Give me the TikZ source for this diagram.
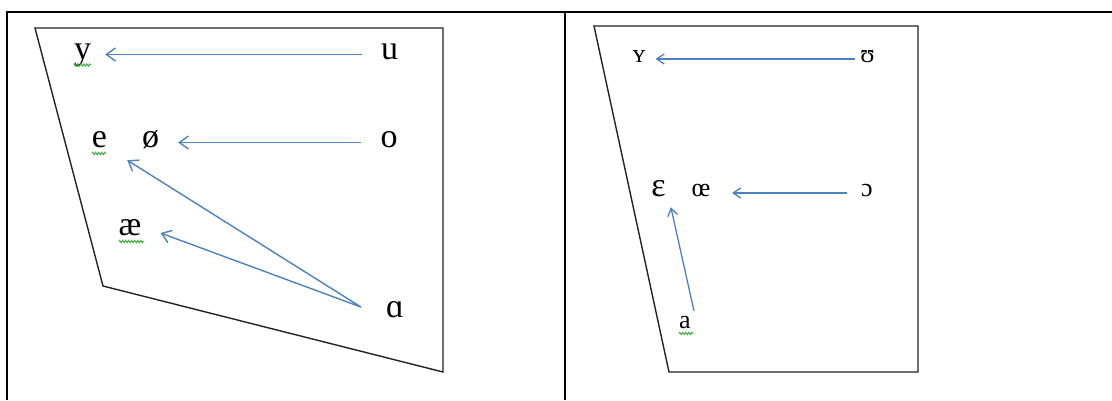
\documentclass[tikz,border=0pt]{standalone}
\usepackage{fontspec}
\setmainfont{Liberation Serif}
\usetikzlibrary{arrows.meta,calc,decorations.pathmorphing}
\definecolor{arrowblue}{RGB}{79,129,189}
\definecolor{squig}{RGB}{60,170,60}
\definecolor{frame}{RGB}{35,35,35}
\begin{document}
\begin{tikzpicture}[x=1pt,y=-1pt,
  vowelL/.style={inner sep=0pt, anchor=base, text height=9pt, text depth=0pt, font=\fontsize{34}{40}\selectfont},
  vowelR/.style={inner sep=0pt, anchor=base, text height=6pt, text depth=0pt, font=\fontsize{26}{30}\selectfont},
  arrL/.style={draw=arrowblue, line width=1.4pt, -{Straight Barb[length=9pt,width=13pt,line width=1.4pt]}},
  arrR/.style={draw=arrowblue, line width=1.3pt, -{Straight Barb[length=7.5pt,width=10pt,line width=1.3pt]}},
  quad/.style={draw=frame, line width=1.4pt, line join=miter},
  tableline/.style={draw=black, line width=2.2pt},
  squiggle/.style={draw=squig, line width=0.9pt, decorate, decoration={zigzag, segment length=3pt, amplitude=1.2pt}}]
\useasboundingbox (0,0) rectangle (1112,400);

% table
\draw[tableline] (1112,12) -- (6.7,12) -- (6.7,400);
\draw[tableline] (565.3,12) -- (565.3,400);

% left chart
\draw[quad] (35,28) -- (443,28) -- (443,372) -- (103,286) -- cycle;
\node[vowelL] (y)  at (82.5,59) {y};
\node[vowelL] (u)  at (389.5,59) {u};
\node[vowelL] (e)  at (99.5,147) {e};
\node[vowelL] (oe) at (150.5,147) {ø};
\node[vowelL] (o)  at (389,147) {o};
\node[vowelL] (ae) at (130,235) {æ};
\node[vowelL] (aa) at (395,317) {ɑ};

\draw[arrL] ($(u.west)+(-19,0)$) -- ($(y.east)+(14,0)$);
\draw[arrL] ($(o.west)+(-19,0)$) -- ($(oe.east)+(19,0)$);
\draw[arrL] ($(aa.west)+(-25,-5.5)$) -- ($(e.south east)+(20,13)$);
\draw[arrL] ($(aa.west)+(-25,-5.5)$) -- ($(ae.east)+(19,2.5)$);

\draw[squiggle] ($(y.base)+(-8.5,6)$) -- ($(y.base)+(8.5,6)$);
\draw[squiggle] ($(e.base)+(-7.5,6.5)$) -- ($(e.base)+(6.5,6.5)$);
\draw[squiggle] ($(ae.base)+(-11,6.5)$) -- ($(ae.base)+(14,6.5)$);

% right chart
\draw[quad] (594,26) -- (918,26) -- (918,372) -- (669,372) -- cycle;
\node[vowelR] (Y)   at (639,62) {ʏ};
\node[vowelR] (U)   at (867.5,62) {ʊ};
\node[vowelR, font=\fontsize{34}{40}\selectfont] (E) at (658.5,196) {ɛ};
\node[vowelR] (OE)  at (701,196) {œ};
\node[vowelR] (O)   at (867,196) {ɔ};
\node[vowelR] (A)   at (685,328) {a};

\draw[arrR] ($(U.west)+(-5,0)$) -- ($(Y.east)+(10,0)$);
\draw[arrR] ($(O.west)+(-14,0)$) -- ($(OE.east)+(21.5,0)$);
\draw[arrR] ($(A.north east)+(3,-11)$) -- ($(E.south east)+(5,11)$);

\draw[squiggle] ($(A.base)+(-6,5.5)$) -- ($(A.base)+(8,5.5)$);
\end{tikzpicture}
\end{document}
